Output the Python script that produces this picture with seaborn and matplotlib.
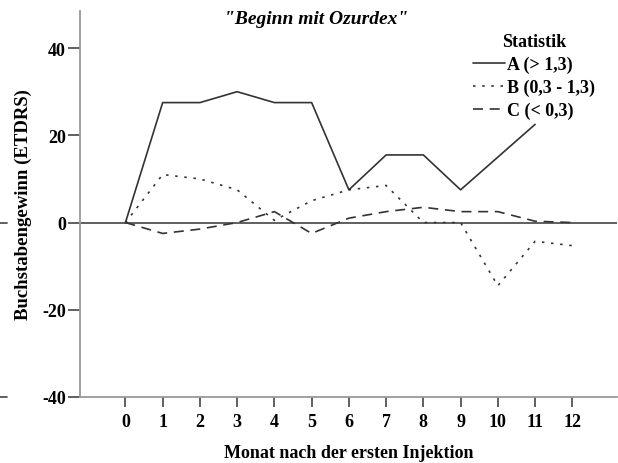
import matplotlib
matplotlib.use("Agg")
import matplotlib.pyplot as plt
import seaborn as sns
import pandas as pd
from matplotlib.lines import Line2D

months = list(range(13))
series_a = [0, 27.5, 27.5, 30, 27.5, 27.5, 7.5, 15.5, 15.5, 7.5, 15, 22.5, None]
series_b = [0, 11, 10, 7.5, 0.5, 5, 7.5, 8.5, 0, 0, -14.5, -4.3, -5.3]
series_c = [0, -2.5, -1.5, 0, 2.5, -2.5, 1, 2.5, 3.5, 2.5, 2.5, 0.3, 0]
labels = ["A (> 1,3)", "B (0,3 - 1,3)", "C (< 0,3)"]
yticks = [-40, -20, 0, 20, 40]

rows = []
for lab, vals in zip(labels, [series_a, series_b, series_c]):
    for m, v in zip(months, vals):
        if v is not None:
            rows.append({"Monat": m, "Wert": v, "Statistik": lab})
df = pd.DataFrame(rows)

sns.set_theme(style="white")
plt.rcParams["font.family"] = ["Liberation Serif", "DejaVu Serif"]
plt.rcParams["font.weight"] = "bold"
plt.rcParams["text.color"] = "black"

fig = plt.figure(figsize=(6.18, 4.64), dpi=100)
ax = fig.add_axes([80/618, 1-398/464, 537/618, 386/464])

col = "#333333"
sns.lineplot(data=df, x="Monat", y="Wert", style="Statistik", ax=ax,
             color=col, linewidth=1.2,
             dashes={labels[0]: "", labels[1]: (1.5, 4), labels[2]: (6, 4)},
             legend=True)

ax.axhline(0, color="#444444", linewidth=1.2, zorder=0)

ax.set_xlim(-1.22, 13.2)
ax.set_ylim(-40, 48.5)
ax.set_xticks(months)
ax.set_xticklabels([str(m) for m in months], fontsize=13, fontweight="bold", color="black")
ax.set_yticks(yticks)
ax.set_yticklabels([str(t) for t in yticks], fontsize=13, fontweight="bold", color="black")
ax.tick_params(axis="x", direction="out", length=7.5, width=1.2, color="#444444",
               bottom=True, pad=4)
ax.tick_params(axis="y", direction="out", length=9, width=1.2, color="#444444",
               left=True, pad=1)

for s in ["top", "right"]:
    ax.spines[s].set_visible(False)
for s in ["left", "bottom"]:
    ax.spines[s].set_color("#999999")
    ax.spines[s].set_linewidth(1.3)

ax.set_xlabel("Monat nach der ersten Injektion", fontsize=13, fontweight="bold",
              labelpad=10, color="black")
ax.set_ylabel("Buchstabengewinn (ETDRS)", fontsize=13.5, fontweight="bold",
              color="black")
ax.yaxis.set_label_coords(-(80 - 32) / 537, 0.5)

fig.text(316/618, 1-20/464, "\"Beginn mit Ozurdex\"", ha="center", va="center",
         fontsize=14, fontweight="bold", fontstyle="italic", color="black")

handles = [Line2D([], [], color=col, lw=1.2, linestyle="-"),
           Line2D([], [], color=col, lw=1.2, linestyle=(0, (1.5, 4))),
           Line2D([], [], color=col, lw=1.2, linestyle=(0, (6, 4)))]
leg = ax.legend(handles, labels, title="Statistik", loc="upper right",
                bbox_to_anchor=(604/618, 1-25/464), bbox_transform=fig.transFigure,
                frameon=False, handlelength=1.8, handletextpad=0.1,
                labelspacing=0.32, borderpad=0, prop={"weight": "bold", "size": 13})
leg.get_title().set_fontweight("bold")
leg.get_title().set_fontsize(13)
for t in leg.get_texts():
    t.set_color("black")

# stray marks at left edge
for yy in [224, 398]:
    fig.add_artist(Line2D([0, 7/618], [1-yy/464, 1-yy/464], color="#444444", lw=1.2,
                          transform=fig.transFigure))

fig.savefig("out.png", dpi=100)
